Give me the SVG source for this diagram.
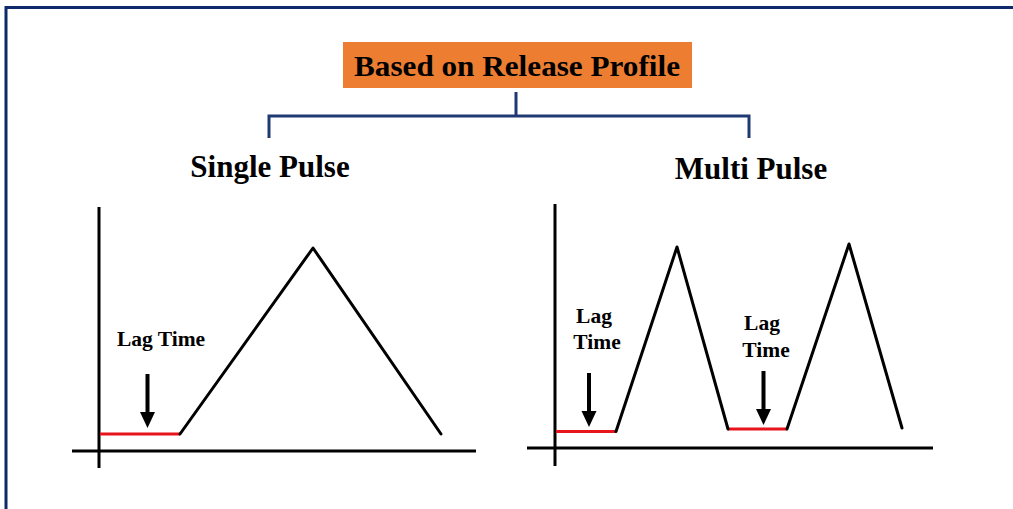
<svg xmlns="http://www.w3.org/2000/svg" width="1013" height="509" viewBox="0 0 1013 509">
  <style>
    .frame { fill: none; stroke: #0E2A6A; stroke-width: 3; }
    .link { fill: none; stroke: #1F3A72; stroke-width: 3; }
    .axis { stroke: #000; stroke-width: 3; fill: none; }
    .curve { stroke: #000; stroke-width: 3; fill: none; stroke-linejoin: round; stroke-linecap: round; }
    .lag { stroke: #E8141B; stroke-width: 3; }
    .title { font-family: "Liberation Serif", "Times New Roman", serif; font-weight: bold; fill: #000; text-anchor: middle; }
    .lbl { font-family: "Liberation Serif", "Times New Roman", serif; font-weight: bold; font-size: 21.5px; fill: #000; text-anchor: middle; }
  </style>
  <defs>
    <!-- downward pointer, tip at the origin -->
    <path id="pointer" d="M-2 -54 H2 V-16 H7.5 L0 0 L-7.5 -16 H-2 Z" fill="#000"/>
  </defs>

  <rect width="1013" height="509" fill="#fff"/>
  <!-- outer frame, open to the right and bottom -->
  <rect class="frame" x="6" y="7.5" width="1100" height="600"/>

  <g id="root">
    <rect x="343" y="42" width="349" height="46" fill="#ED7D31"/>
    <text class="title" x="517" y="76" font-size="29" textLength="326" lengthAdjust="spacingAndGlyphs">Based on Release Profile</text>
  </g>

  <g id="connectors">
    <path class="link" d="M516 92 V116 M269 138 V116 H749 V138"/>
  </g>

  <g id="single-pulse">
    <text class="title" x="270" y="177" font-size="31">Single Pulse</text>
    <line class="axis" x1="99" y1="207" x2="99" y2="468"/>
    <line class="axis" x1="72" y1="451" x2="476" y2="451"/>
    <line class="lag" x1="100" y1="434" x2="180" y2="434"/>
    <polyline class="curve" points="180,434 313,248 441,434"/>
    <text class="lbl" x="161" y="346">Lag Time</text>
    <use href="#pointer" x="147.5" y="428"/>
  </g>

  <g id="multi-pulse">
    <text class="title" x="751" y="179" font-size="31">Multi Pulse</text>
    <line class="axis" x1="555" y1="204" x2="555" y2="466"/>
    <line class="axis" x1="527" y1="448" x2="933" y2="448"/>
    <line class="lag" x1="556" y1="431.5" x2="616" y2="431.5"/>
    <line class="lag" x1="728" y1="429" x2="787" y2="429"/>
    <polyline class="curve" points="616,431.5 677,247 728,429"/>
    <polyline class="curve" points="787,429 849,244 902,428"/>
    <text class="lbl" x="594" y="323">Lag</text>
    <text class="lbl" x="597" y="349">Time</text>
    <use href="#pointer" x="589" y="427"/>
    <text class="lbl" x="762" y="330">Lag</text>
    <text class="lbl" x="766" y="357">Time</text>
    <use href="#pointer" x="763.5" y="425"/>
  </g>
</svg>
